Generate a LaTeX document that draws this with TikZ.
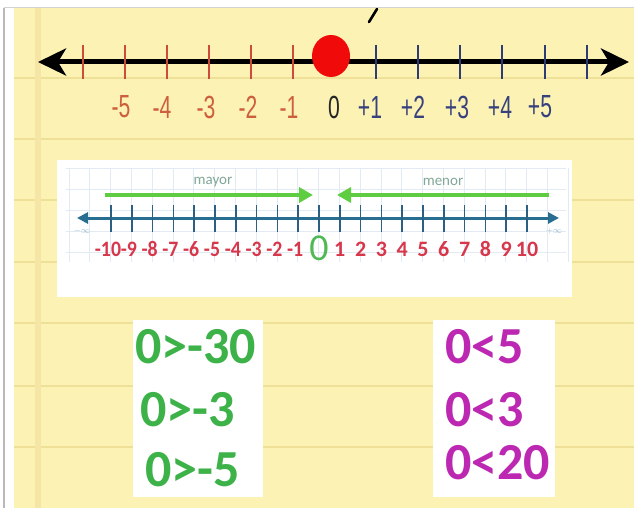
\documentclass[tikz,border=0pt]{standalone}
\usepackage{fontspec}
\setmainfont{Carlito}
\newfontfamily\narrowf{Liberation Sans}
\usetikzlibrary{arrows.meta}
\definecolor{pad}{RGB}{251,242,180}
\definecolor{padline}{RGB}{238,224,150}
\definecolor{margin}{RGB}{246,230,165}
\definecolor{tickred}{RGB}{205,75,60}
\definecolor{tickblue}{RGB}{45,60,115}
\definecolor{labred}{RGB}{205,95,60}
\definecolor{labblue}{RGB}{55,65,125}
\definecolor{dotred}{RGB}{240,10,10}
\definecolor{gridc}{RGB}{226,234,244}
\definecolor{teal}{RGB}{40,110,145}
\definecolor{tealtick}{RGB}{45,95,130}
\definecolor{numred}{RGB}{215,55,75}
\definecolor{arrgreen}{RGB}{95,205,65}
\definecolor{zgreen}{RGB}{80,185,85}
\definecolor{wordc}{RGB}{130,168,150}
\definecolor{bgreen}{RGB}{60,178,72}
\definecolor{bmag}{RGB}{188,40,178}
\begin{document}
\begin{tikzpicture}[x=1pt,y=-1pt,
  toplab/.style={inner sep=0pt, font=\narrowf\fontsize{32}{32}\selectfont},
  numlab/.style={inner sep=0pt, text=numred, font=\bfseries\fontsize{22}{22}\selectfont},
  bigtxt/.style={inner sep=0pt, anchor=west, font=\bfseries\fontsize{52}{52}\selectfont},
  word/.style={inner sep=0pt, text=wordc, font=\fontsize{15}{15}\selectfont}]
\useasboundingbox (0,0) rectangle (634,508);
\fill[white] (0,0) rectangle (634,508);
\fill[pad] (14,8) rectangle (634,508);
\draw[gray!55, line width=1.5] (4,8) -- (4,508);
\draw[gray!35, line width=1] (4,7.5) -- (634,7.5);
\foreach \y in {78,139,200,262,323,386,447}
  \draw[padline, line width=2] (14,\y) -- (634,\y);
\draw[margin, line width=6] (38,8) -- (38,508);

% top number line
\coordinate (L) at (38,62);
\coordinate (R) at (629,62);
\draw[line width=5, {Stealth[length=28pt,width=27pt,inset=8pt]}-{Stealth[length=28pt,width=27pt,inset=8pt]}] (L) -- (R);
\foreach \x in {83,125,167,209,251,293}
  \draw[tickred, line width=2.5] (\x,45) -- (\x,79);
\foreach \x in {376,418,460,502,545,587}
  \draw[tickblue, line width=2.5] (\x,45) -- (\x,79);
\fill[dotred] (331,56) ellipse [x radius=19, y radius=21];
\draw[line width=2.6, line cap=round] (377,9) -- (369,22);
\foreach \x/\t in {121/-5,162/-4,206/-3,248/-2,289/-1}
  \node[toplab, text=labred] at (\x,107) {\scalebox{0.66}[1]{\t}};
\node[toplab, text=black!85] (z) at (334,107) {\scalebox{0.66}[1]{0}};
\foreach \x/\t in {370/+1,413/+2,457/+3,500/+4,540/+5}
  \node[toplab, text=labblue] at (\x,107) {\scalebox{0.66}[1]{\t}};

% middle panel
\fill[white] (57,160) rectangle (572,297);
\foreach \i in {0,...,24}
  \draw[gridc, line width=0.7] ({69+20.8*\i},168) -- ({69+20.8*\i},262);
\foreach \y in {168,189,210,231,252}
  \draw[gridc, line width=0.7] (66,\y) -- (566,\y);
\coordinate (ma) at (105,195);
\coordinate (mb) at (313,195);
\coordinate (na) at (549,195);
\coordinate (nb) at (337,195);
\draw[arrgreen, line width=4.5, -{Triangle[length=14pt,width=15pt]}] (ma) -- (mb);
\draw[arrgreen, line width=4.5, -{Triangle[length=14pt,width=15pt]}] (na) -- (nb);
\node[word] at (213,182) {mayor};
\node[word] at (443,182) {menor};
\coordinate (bl) at (77,218);
\coordinate (br) at (559,218);
\draw[teal, line width=3, {Triangle[length=11pt,width=11pt]}-{Triangle[length=11pt,width=11pt]}] (bl) -- (br);
\foreach \i in {-10,...,10}
  \draw[tealtick, line width=1.6] ({319+20.8*\i},205) -- ({319+20.8*\i},232);
\foreach \i in {-10,...,-1}
  \node[numlab] at ({316+20.8*\i},249) {\scalebox{0.9}[1]{\i}};
\foreach \i in {1,...,10}
  \node[numlab] at ({319+20.8*\i},249) {\i};
\node[inner sep=0pt, text=zgreen, font=\fontsize{38}{38}\selectfont] at (319,248) {0};
\node[inner sep=0pt, text=teal!45, font=\fontsize{9}{9}\selectfont] at (82,231) {$-\infty$};
\node[inner sep=0pt, text=teal!45, font=\fontsize{9}{9}\selectfont] at (554,231) {$+\infty$};

% bottom boxes
\fill[white] (133,320) rectangle (263,497);
\fill[white] (433,320) rectangle (555,497);
\node[bigtxt, text=bgreen] (g1) at (135,347) {0>-30};
\node[bigtxt, text=bgreen] (g2) at (140,410) {0>-3};
\node[bigtxt, text=bgreen] (g3) at (145,470) {0>-5};
\node[bigtxt, text=bmag] (m1) at (445,347) {0<5};
\node[bigtxt, text=bmag] (m2) at (445,410) {0<3};
\node[bigtxt, text=bmag] (m3) at (445,463) {0<20};
\end{tikzpicture}
\end{document}
